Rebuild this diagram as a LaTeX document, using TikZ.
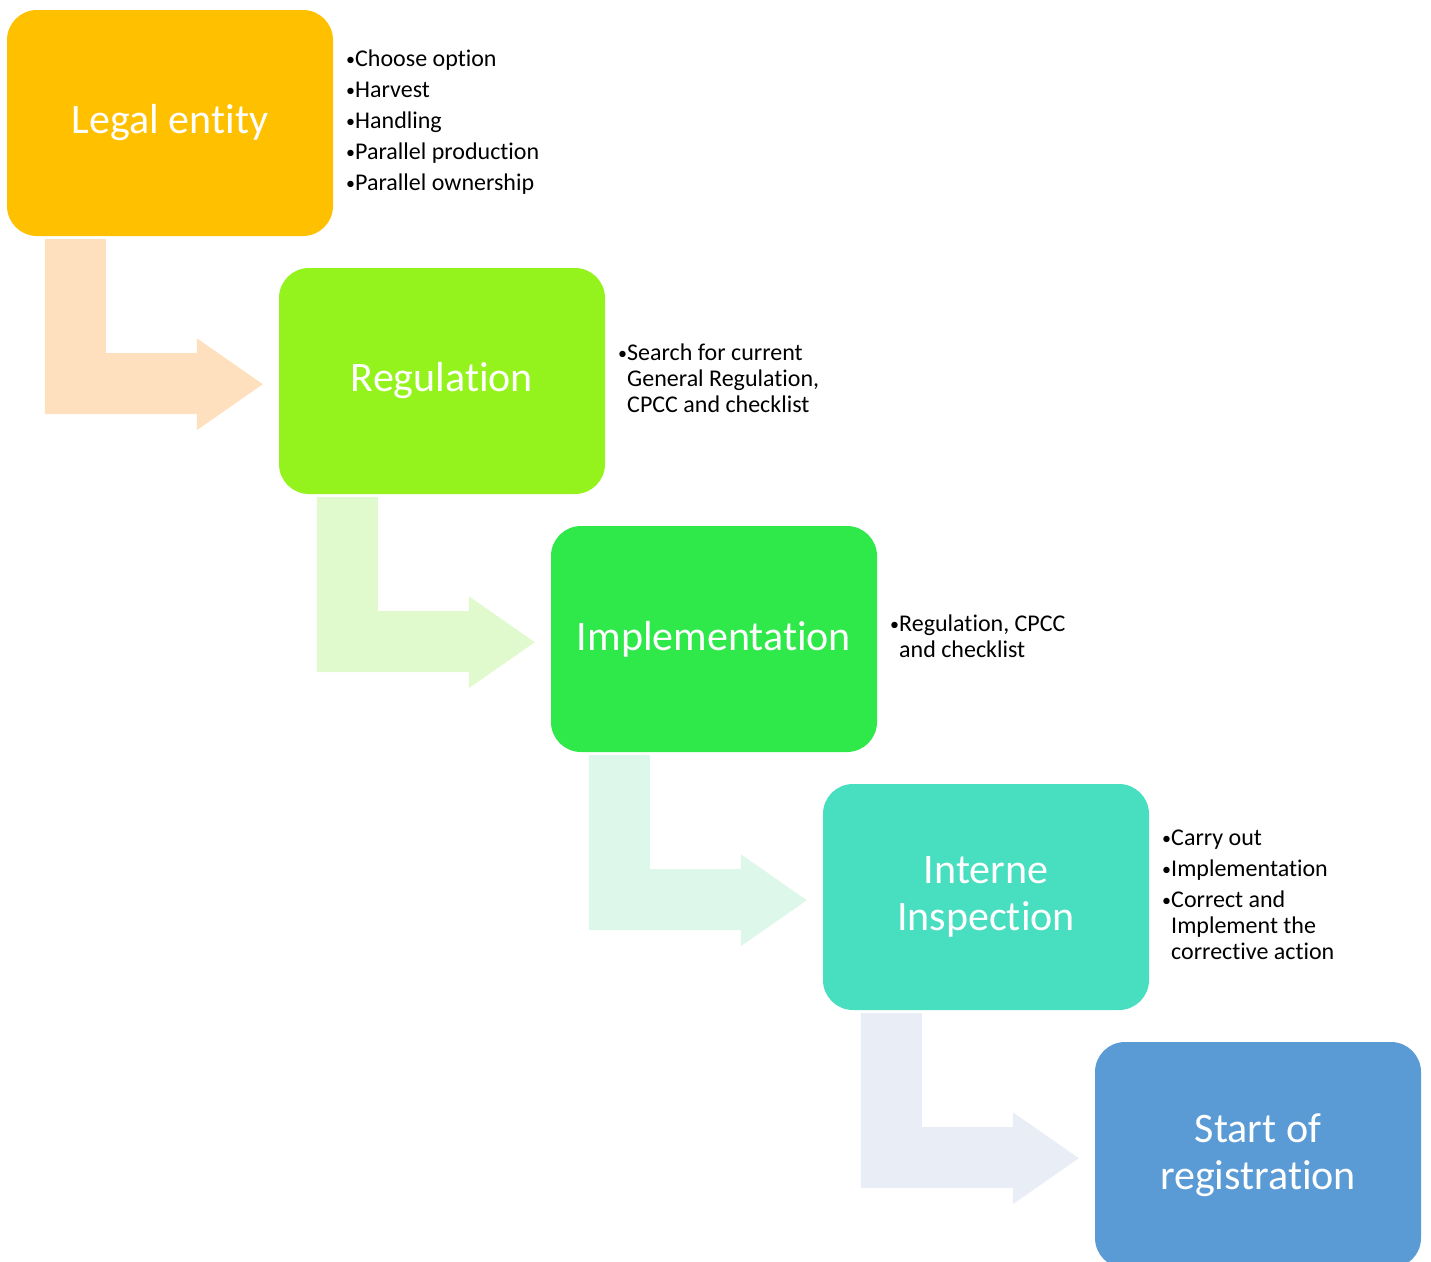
\documentclass[tikz,border=0pt]{standalone}
\usepackage{fontspec}
\setmainfont[Ligatures=NoCommon]{Carlito}
\usetikzlibrary{calc}
\definecolor{cLegal}{HTML}{FFC000}
\definecolor{cReg}{HTML}{94F31C}
\definecolor{cImpl}{HTML}{2FE84A}
\definecolor{cInsp}{HTML}{48DEC0}
\definecolor{cStart}{HTML}{5B9BD5}
\definecolor{aOne}{HTML}{FEE0BE}
\definecolor{aTwo}{HTML}{E0F9CD}
\definecolor{aThree}{HTML}{DDF7EA}
\definecolor{aFour}{HTML}{E8EDF6}
\newcommand{\bentarrow}[2]{%
  \fill[#2] ($(#1.south west)+(38,3)$) -- ++(61,0) -- ++(0,114) -- ++(91,0) -- ++(0,-15)
    -- ++(66,46) -- ++(-66,46) -- ++(0,-16) -- ++(-152,0) -- cycle;}
\newcommand{\bu}{\makebox[10pt][l]{\hspace*{1pt}\raisebox{1.5pt}{\fontsize{18}{18}\selectfont •}}}
\newcommand{\ind}{\hspace*{10pt}}
\begin{document}
\begin{tikzpicture}[x=1pt,y=-1pt,
  stage/.style={rounded corners=30pt, minimum width=326pt, minimum height=226pt,
    inner sep=0pt, text=white, align=center, font=\fontsize{42}{47}\selectfont},
  notes/.style={anchor=north west, inner sep=0pt, align=left, text=black,
    font=\fontsize{24}{26}\selectfont}]
\useasboundingbox (0,0) rectangle (1431,1261);
\clip (0,0) rectangle (1431,1261);
\node[stage, fill=cLegal] (b1) at (170,123) {Legal entity};
\node[stage, fill=cReg] (b2) at (442,381) {Regulation};
\node[stage, fill=cImpl] (b3) at (714,639) {Implementation};
\node[stage, fill=cInsp] (b4) at (986,897) {Interne\\Inspection};
\node[stage, fill=cStart] (b5) at (1258,1155) {Start of\\registration};
\bentarrow{b1}{aOne}
\bentarrow{b2}{aTwo}
\bentarrow{b3}{aThree}
\bentarrow{b4}{aFour}
\node[notes] (l1) at (345,50) {\bu Choose option\\[5pt]\bu Harvest\\[5pt]\bu Handling\\[5pt]\bu Parallel production\\[5pt]\bu Parallel ownership};
\node[notes] (l2) at (617,344) {\bu Search for current\\\ind General Regulation,\\\ind CPCC and checklist};
\node[notes] (l3) at (889,615) {\bu Regulation, CPCC\\\ind and checklist};
\node[notes] (l4) at (1161,830) {\bu Carry out\\[5pt]\bu Implementation\\[5pt]\bu Correct and\\\ind Implement the\\\ind corrective action};
\end{tikzpicture}
\end{document}
